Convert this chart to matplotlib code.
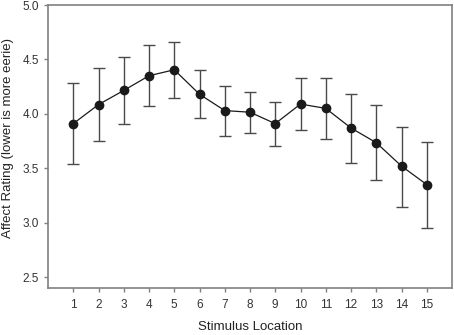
import matplotlib
matplotlib.use("Agg")
import matplotlib.pyplot as plt
import numpy as np

plt.rcParams['font.family'] = ['Liberation Sans', 'DejaVu Sans']

locations = list(range(1, 16))
means = [3.91, 4.085, 4.215, 4.35, 4.405, 4.18, 4.03, 4.015, 3.91, 4.09, 4.05, 3.87, 3.735, 3.52, 3.35]
upper = [4.285, 4.42, 4.52, 4.63, 4.66, 4.405, 4.255, 4.205, 4.11, 4.33, 4.325, 4.18, 4.085, 3.88, 3.745]
lower = [3.535, 3.755, 3.905, 4.07, 4.15, 3.96, 3.80, 3.825, 3.705, 3.85, 3.77, 3.55, 3.39, 3.145, 2.955]
yticks = [2.5, 3.0, 3.5, 4.0, 4.5, 5.0]

m = np.array(means)
err = [m - np.array(lower), np.array(upper) - m]

fig = plt.figure(figsize=(4.54, 3.35), dpi=100)
ax = fig.add_axes([48/454, 1 - 288/335, (452-48)/454, (288-5)/335])

ax.errorbar(locations, means, yerr=err, fmt='-o', color='#1a1a1a', ecolor='#4a4a4a',
            elinewidth=1.0, capsize=4, capthick=1.0, markersize=6, linewidth=0.9,
            markerfacecolor='#1a1a1a', markeredgecolor='#1a1a1a')

ax.set_xlim(0, 16)
ax.set_ylim(2.4, 5.0)
ax.set_xticks(locations)
ax.set_yticks(yticks)
ax.set_yticklabels([f"{v:.1f}" for v in yticks])
for s in ax.spines.values():
    s.set_color('#808080')
    s.set_linewidth(1.2)
ax.tick_params(colors='#808080', labelcolor='#333333', labelsize=8.5, length=3, width=1)
ax.tick_params(axis='x', pad=5)
ax.set_xlabel('Stimulus Location', fontsize=9.5, color='#222222', labelpad=7)
ax.set_ylabel('Affect Rating (lower is more eerie)', fontsize=9.5, color='#222222', labelpad=6)
ax.yaxis.set_label_coords(-0.085, 0.53)

fig.savefig('out.png', dpi=100)
